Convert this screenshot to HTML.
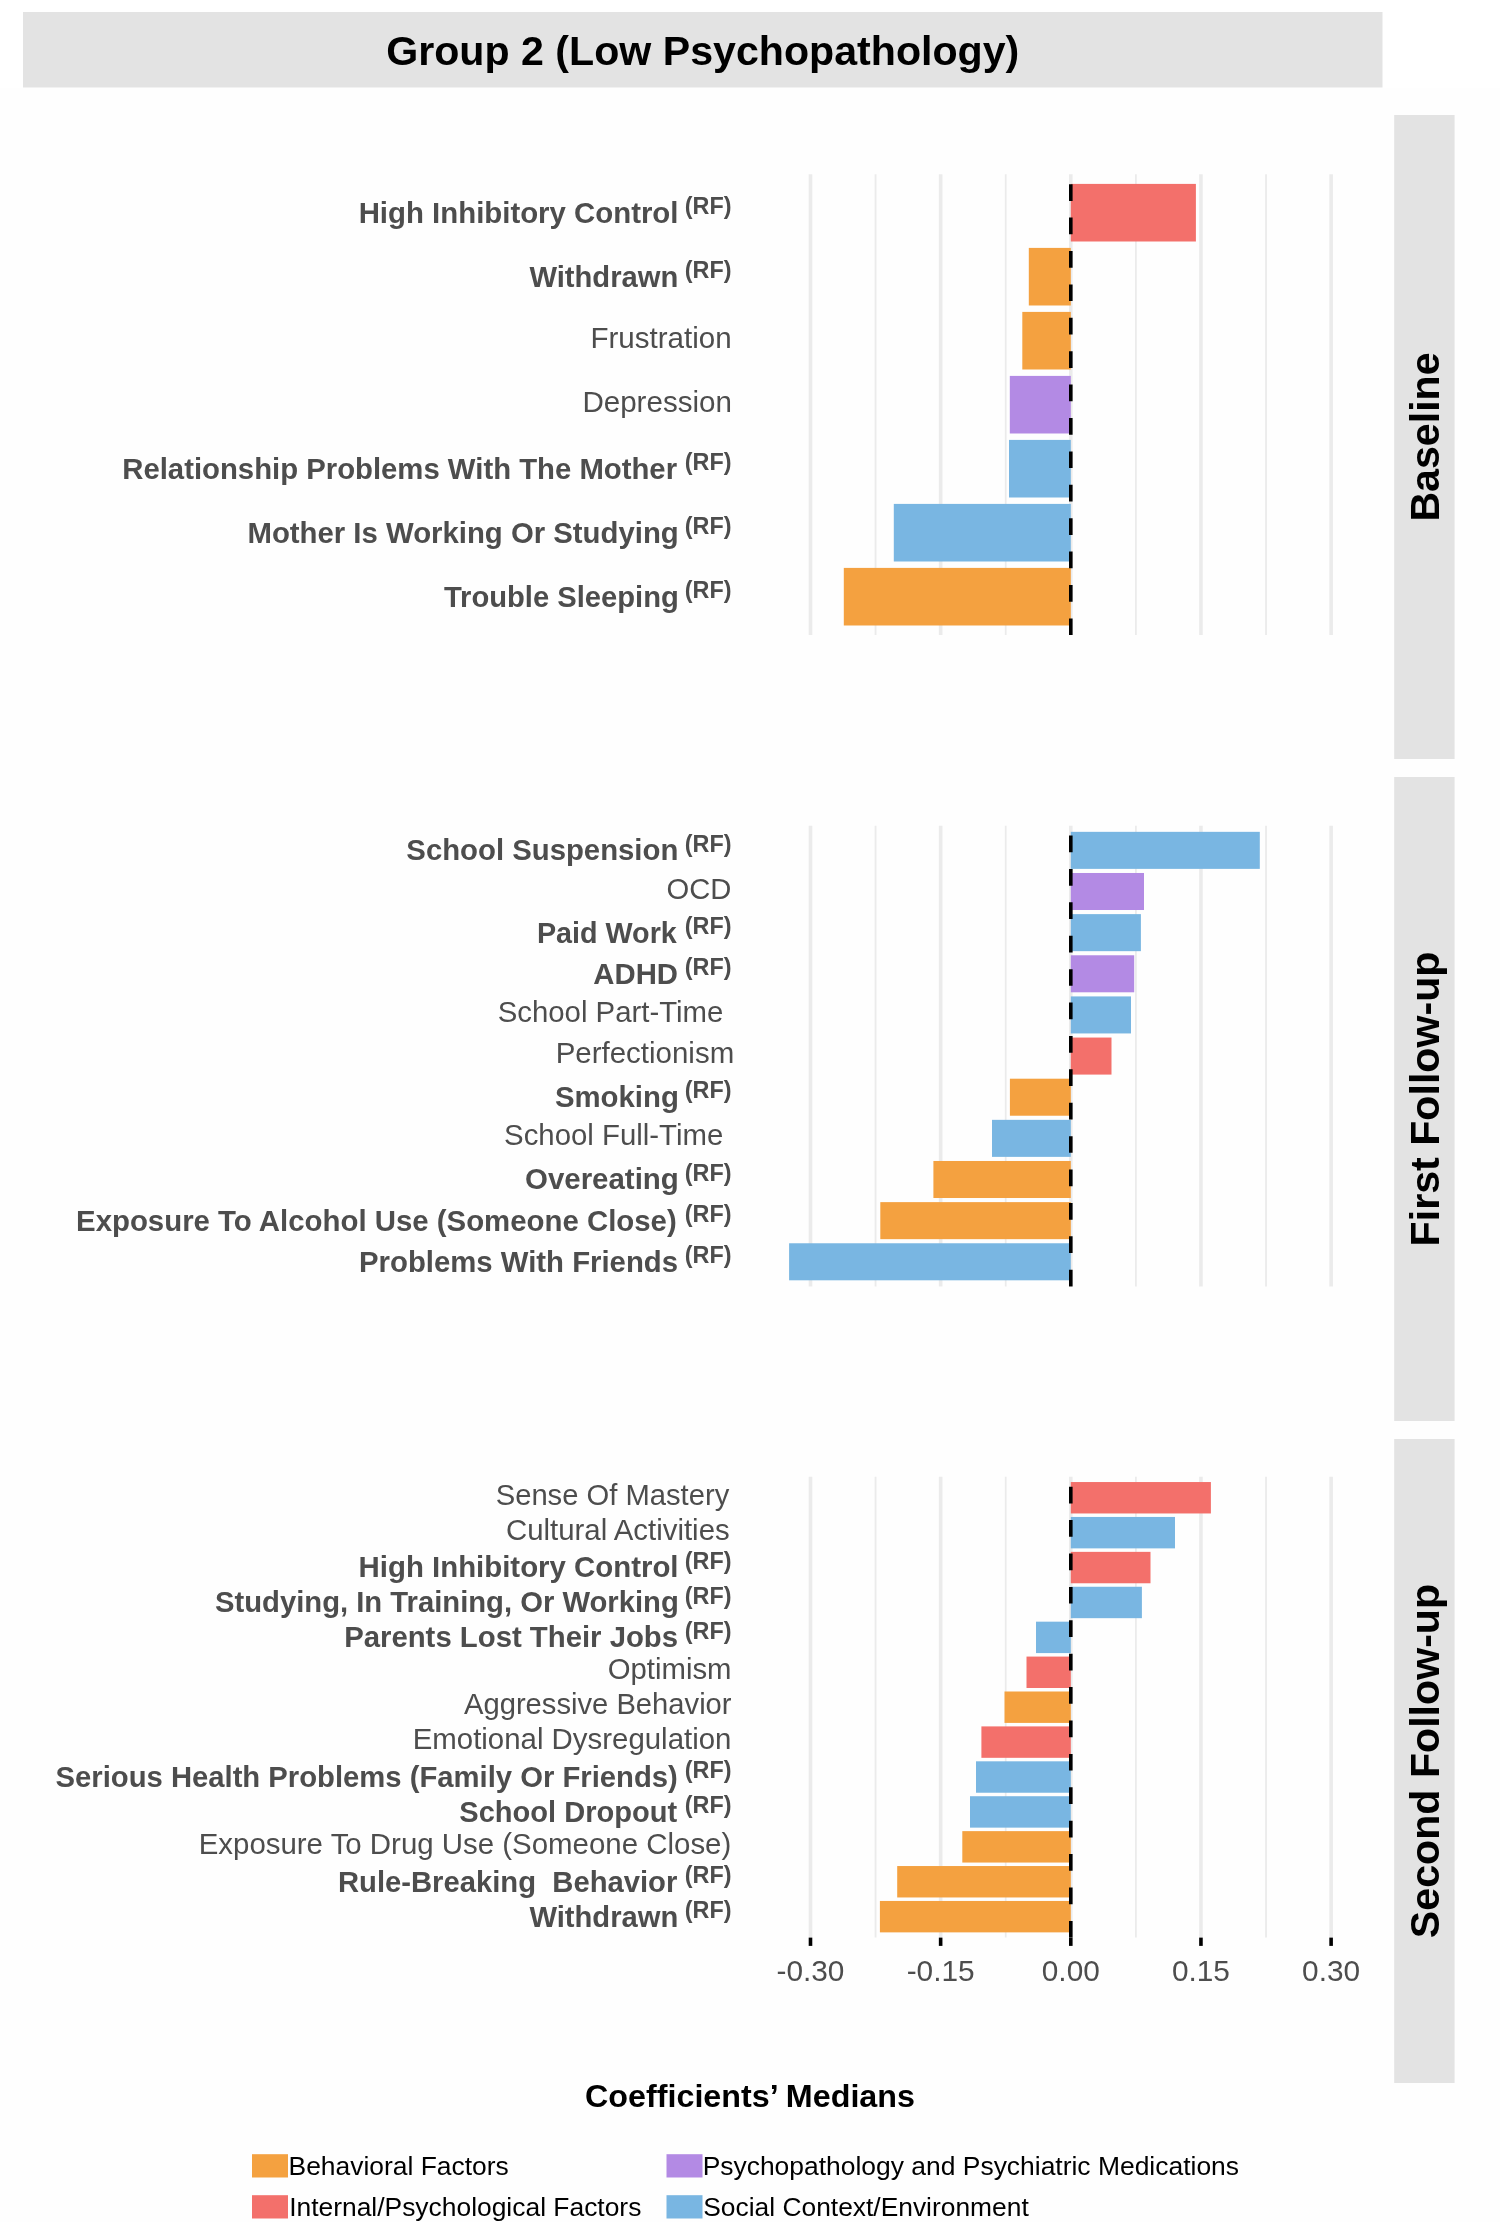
<!DOCTYPE html><html><head><meta charset="utf-8"><style>html,body{margin:0;padding:0;background:#fff;width:1500px;height:2222px;overflow:hidden}svg{display:block;will-change:transform}text{font-family:"Liberation Sans",sans-serif;white-space:pre}</style></head><body>
<svg width="1500" height="2222" viewBox="0 0 1500 2222">
<rect x="0" y="0" width="1500" height="2222" fill="#fefefe"/>
<rect x="0" y="0" width="1500" height="88" fill="#ffffff"/>
<rect x="23" y="12" width="1359.5" height="75.5" fill="#e3e3e3"/>
<text x="702.75" y="64.9" font-size="41.15" font-weight="bold" text-anchor="middle" fill="#000">Group 2 (Low Psychopathology)</text>
<rect x="1394.2" y="115" width="60.4" height="644" fill="#e3e3e3"/>
<text transform="translate(1438.8 437) rotate(-90)" font-size="41.15" font-weight="bold" text-anchor="middle" fill="#000">Baseline</text>
<rect x="1394.2" y="777" width="60.4" height="644" fill="#e3e3e3"/>
<text transform="translate(1438.8 1099) rotate(-90)" font-size="41.15" font-weight="bold" text-anchor="middle" fill="#000">First Follow-up</text>
<rect x="1394.2" y="1439" width="60.4" height="644" fill="#e3e3e3"/>
<text transform="translate(1438.8 1761) rotate(-90)" font-size="41.15" font-weight="bold" text-anchor="middle" fill="#000">Second Follow-up</text>
<line x1="810.49" y1="174.30" x2="810.49" y2="635.10" stroke="#ebebeb" stroke-width="3.6"/>
<line x1="875.57" y1="174.30" x2="875.57" y2="635.10" stroke="#ebebeb" stroke-width="1.8"/>
<line x1="940.64" y1="174.30" x2="940.64" y2="635.10" stroke="#ebebeb" stroke-width="3.6"/>
<line x1="1005.72" y1="174.30" x2="1005.72" y2="635.10" stroke="#ebebeb" stroke-width="1.8"/>
<line x1="1070.80" y1="174.30" x2="1070.80" y2="635.10" stroke="#ebebeb" stroke-width="3.6"/>
<line x1="1135.88" y1="174.30" x2="1135.88" y2="635.10" stroke="#ebebeb" stroke-width="1.8"/>
<line x1="1200.95" y1="174.30" x2="1200.95" y2="635.10" stroke="#ebebeb" stroke-width="3.6"/>
<line x1="1266.03" y1="174.30" x2="1266.03" y2="635.10" stroke="#ebebeb" stroke-width="1.8"/>
<line x1="1331.11" y1="174.30" x2="1331.11" y2="635.10" stroke="#ebebeb" stroke-width="3.6"/>
<rect x="1070.80" y="183.90" width="125.10" height="57.60" fill="#F3706B"/>
<text x="358.66" y="222.60" font-size="29.399" font-weight="bold" fill="#4d4d4d">High Inhibitory Control</text>
<text x="684.80" y="213.90" font-size="23.382" font-weight="bold" fill="#4d4d4d">(RF)</text>
<rect x="1028.80" y="247.90" width="42.00" height="57.60" fill="#F4A140"/>
<text x="529.40" y="286.60" font-size="29.209" font-weight="bold" fill="#4d4d4d">Withdrawn</text>
<text x="684.80" y="277.90" font-size="23.382" font-weight="bold" fill="#4d4d4d">(RF)</text>
<rect x="1022.30" y="311.90" width="48.50" height="57.60" fill="#F4A140"/>
<text x="590.39" y="347.70" font-size="29.559" fill="#4d4d4d">Frustration</text>
<rect x="1009.80" y="375.90" width="61.00" height="57.60" fill="#B38AE4"/>
<text x="582.39" y="411.70" font-size="29.570" fill="#4d4d4d">Depression</text>
<rect x="1009.00" y="439.90" width="61.80" height="57.60" fill="#79B6E2"/>
<text x="122.27" y="478.60" font-size="29.316" font-weight="bold" fill="#4d4d4d">Relationship Problems With The Mother</text>
<text x="684.80" y="469.90" font-size="23.382" font-weight="bold" fill="#4d4d4d">(RF)</text>
<rect x="893.80" y="503.90" width="177.00" height="57.60" fill="#79B6E2"/>
<text x="247.47" y="542.60" font-size="29.339" font-weight="bold" fill="#4d4d4d">Mother Is Working Or Studying</text>
<text x="684.80" y="533.90" font-size="23.382" font-weight="bold" fill="#4d4d4d">(RF)</text>
<rect x="843.80" y="567.90" width="227.00" height="57.60" fill="#F4A140"/>
<text x="443.90" y="606.60" font-size="29.164" font-weight="bold" fill="#4d4d4d">Trouble Sleeping</text>
<text x="684.80" y="597.90" font-size="23.382" font-weight="bold" fill="#4d4d4d">(RF)</text>
<line x1="1070.8" y1="635.10" x2="1070.8" y2="174.30" stroke="#000" stroke-width="3.6" stroke-dasharray="16.7 16.7"/>
<line x1="810.49" y1="825.67" x2="810.49" y2="1286.47" stroke="#ebebeb" stroke-width="3.6"/>
<line x1="875.57" y1="825.67" x2="875.57" y2="1286.47" stroke="#ebebeb" stroke-width="1.8"/>
<line x1="940.64" y1="825.67" x2="940.64" y2="1286.47" stroke="#ebebeb" stroke-width="3.6"/>
<line x1="1005.72" y1="825.67" x2="1005.72" y2="1286.47" stroke="#ebebeb" stroke-width="1.8"/>
<line x1="1070.80" y1="825.67" x2="1070.80" y2="1286.47" stroke="#ebebeb" stroke-width="3.6"/>
<line x1="1135.88" y1="825.67" x2="1135.88" y2="1286.47" stroke="#ebebeb" stroke-width="1.8"/>
<line x1="1200.95" y1="825.67" x2="1200.95" y2="1286.47" stroke="#ebebeb" stroke-width="3.6"/>
<line x1="1266.03" y1="825.67" x2="1266.03" y2="1286.47" stroke="#ebebeb" stroke-width="1.8"/>
<line x1="1331.11" y1="825.67" x2="1331.11" y2="1286.47" stroke="#ebebeb" stroke-width="3.6"/>
<rect x="1070.80" y="831.84" width="189.00" height="37.03" fill="#79B6E2"/>
<text x="406.34" y="860.26" font-size="29.322" font-weight="bold" fill="#4d4d4d">School Suspension</text>
<text x="684.80" y="851.56" font-size="23.382" font-weight="bold" fill="#4d4d4d">(RF)</text>
<rect x="1070.80" y="872.98" width="73.20" height="37.03" fill="#B38AE4"/>
<text x="666.53" y="898.50" font-size="29.197" fill="#4d4d4d">OCD</text>
<rect x="1070.80" y="914.13" width="70.10" height="37.03" fill="#79B6E2"/>
<text x="536.90" y="942.54" font-size="28.720" font-weight="bold" fill="#4d4d4d">Paid Work</text>
<text x="684.80" y="933.84" font-size="23.382" font-weight="bold" fill="#4d4d4d">(RF)</text>
<rect x="1070.80" y="955.27" width="63.40" height="37.03" fill="#B38AE4"/>
<text x="593.34" y="983.68" font-size="29.313" font-weight="bold" fill="#4d4d4d">ADHD</text>
<text x="684.80" y="974.98" font-size="23.382" font-weight="bold" fill="#4d4d4d">(RF)</text>
<rect x="1070.80" y="996.41" width="60.20" height="37.03" fill="#79B6E2"/>
<text x="497.68" y="1021.93" font-size="29.360" fill="#4d4d4d">School Part-Time</text>
<rect x="1070.80" y="1037.56" width="40.70" height="37.03" fill="#F3706B"/>
<text x="555.70" y="1063.07" font-size="29.489" fill="#4d4d4d">Perfectionism</text>
<rect x="1009.90" y="1078.70" width="60.90" height="37.03" fill="#F4A140"/>
<text x="554.94" y="1107.11" font-size="29.350" font-weight="bold" fill="#4d4d4d">Smoking</text>
<text x="684.80" y="1098.41" font-size="23.382" font-weight="bold" fill="#4d4d4d">(RF)</text>
<rect x="992.00" y="1119.84" width="78.80" height="37.03" fill="#79B6E2"/>
<text x="504.08" y="1145.36" font-size="29.379" fill="#4d4d4d">School Full-Time</text>
<rect x="933.40" y="1160.98" width="137.40" height="37.03" fill="#F4A140"/>
<text x="524.98" y="1189.40" font-size="29.460" font-weight="bold" fill="#4d4d4d">Overeating</text>
<text x="684.80" y="1180.70" font-size="23.382" font-weight="bold" fill="#4d4d4d">(RF)</text>
<rect x="880.30" y="1202.13" width="190.50" height="37.03" fill="#F4A140"/>
<text x="76.06" y="1230.54" font-size="29.387" font-weight="bold" fill="#4d4d4d">Exposure To Alcohol Use (Someone Close)</text>
<text x="684.80" y="1221.84" font-size="23.382" font-weight="bold" fill="#4d4d4d">(RF)</text>
<rect x="789.10" y="1243.27" width="281.70" height="37.03" fill="#79B6E2"/>
<text x="359.07" y="1271.68" font-size="29.327" font-weight="bold" fill="#4d4d4d">Problems With Friends</text>
<text x="684.80" y="1262.98" font-size="23.382" font-weight="bold" fill="#4d4d4d">(RF)</text>
<line x1="1070.8" y1="1286.47" x2="1070.8" y2="825.67" stroke="#000" stroke-width="3.6" stroke-dasharray="16.7 16.7"/>
<line x1="810.49" y1="1476.80" x2="810.49" y2="1937.60" stroke="#ebebeb" stroke-width="3.6"/>
<line x1="875.57" y1="1476.80" x2="875.57" y2="1937.60" stroke="#ebebeb" stroke-width="1.8"/>
<line x1="940.64" y1="1476.80" x2="940.64" y2="1937.60" stroke="#ebebeb" stroke-width="3.6"/>
<line x1="1005.72" y1="1476.80" x2="1005.72" y2="1937.60" stroke="#ebebeb" stroke-width="1.8"/>
<line x1="1070.80" y1="1476.80" x2="1070.80" y2="1937.60" stroke="#ebebeb" stroke-width="3.6"/>
<line x1="1135.88" y1="1476.80" x2="1135.88" y2="1937.60" stroke="#ebebeb" stroke-width="1.8"/>
<line x1="1200.95" y1="1476.80" x2="1200.95" y2="1937.60" stroke="#ebebeb" stroke-width="3.6"/>
<line x1="1266.03" y1="1476.80" x2="1266.03" y2="1937.60" stroke="#ebebeb" stroke-width="1.8"/>
<line x1="1331.11" y1="1476.80" x2="1331.11" y2="1937.60" stroke="#ebebeb" stroke-width="3.6"/>
<rect x="1070.80" y="1482.04" width="140.10" height="31.42" fill="#F3706B"/>
<text x="495.69" y="1504.75" font-size="29.203" fill="#4d4d4d">Sense Of Mastery</text>
<rect x="1070.80" y="1516.95" width="104.20" height="31.42" fill="#79B6E2"/>
<text x="506.02" y="1539.65" font-size="29.391" fill="#4d4d4d">Cultural Activities</text>
<rect x="1070.80" y="1551.85" width="79.70" height="31.42" fill="#F3706B"/>
<text x="358.56" y="1577.46" font-size="29.408" font-weight="bold" fill="#4d4d4d">High Inhibitory Control</text>
<text x="684.80" y="1568.76" font-size="23.382" font-weight="bold" fill="#4d4d4d">(RF)</text>
<rect x="1070.80" y="1586.76" width="71.10" height="31.42" fill="#79B6E2"/>
<text x="215.04" y="1612.37" font-size="29.225" font-weight="bold" fill="#4d4d4d">Studying, In Training, Or Working</text>
<text x="684.80" y="1603.67" font-size="23.382" font-weight="bold" fill="#4d4d4d">(RF)</text>
<rect x="1036.00" y="1621.67" width="34.80" height="31.42" fill="#79B6E2"/>
<text x="344.17" y="1647.28" font-size="29.322" font-weight="bold" fill="#4d4d4d">Parents Lost Their Jobs</text>
<text x="684.80" y="1638.58" font-size="23.382" font-weight="bold" fill="#4d4d4d">(RF)</text>
<rect x="1026.50" y="1656.58" width="44.30" height="31.42" fill="#F3706B"/>
<text x="607.73" y="1679.29" font-size="29.320" fill="#4d4d4d">Optimism</text>
<rect x="1004.50" y="1691.49" width="66.30" height="31.42" fill="#F4A140"/>
<text x="464.00" y="1714.20" font-size="29.182" fill="#4d4d4d">Aggressive Behavior</text>
<rect x="981.40" y="1726.40" width="89.40" height="31.42" fill="#F3706B"/>
<text x="412.70" y="1749.11" font-size="29.427" fill="#4d4d4d">Emotional Dysregulation</text>
<rect x="976.00" y="1761.31" width="94.80" height="31.42" fill="#79B6E2"/>
<text x="55.54" y="1786.92" font-size="29.249" font-weight="bold" fill="#4d4d4d">Serious Health Problems (Family Or Friends)</text>
<text x="684.80" y="1778.22" font-size="23.382" font-weight="bold" fill="#4d4d4d">(RF)</text>
<rect x="970.00" y="1796.22" width="100.80" height="31.42" fill="#79B6E2"/>
<text x="459.35" y="1821.83" font-size="29.043" font-weight="bold" fill="#4d4d4d">School Dropout</text>
<text x="684.80" y="1813.13" font-size="23.382" font-weight="bold" fill="#4d4d4d">(RF)</text>
<rect x="962.30" y="1831.13" width="108.50" height="31.42" fill="#F4A140"/>
<text x="198.70" y="1853.84" font-size="29.434" fill="#4d4d4d">Exposure To Drug Use (Someone Close)</text>
<rect x="897.20" y="1866.04" width="173.60" height="31.42" fill="#F4A140"/>
<text x="337.97" y="1891.65" font-size="29.226" font-weight="bold" fill="#4d4d4d">Rule-Breaking  Behavior</text>
<text x="684.80" y="1882.95" font-size="23.382" font-weight="bold" fill="#4d4d4d">(RF)</text>
<rect x="879.90" y="1900.95" width="190.90" height="31.42" fill="#F4A140"/>
<text x="529.40" y="1926.55" font-size="29.209" font-weight="bold" fill="#4d4d4d">Withdrawn</text>
<text x="684.80" y="1917.85" font-size="23.382" font-weight="bold" fill="#4d4d4d">(RF)</text>
<line x1="1070.8" y1="1937.60" x2="1070.8" y2="1476.80" stroke="#000" stroke-width="3.6" stroke-dasharray="16.7 16.7"/>
<line x1="810.49" y1="1937.60" x2="810.49" y2="1945.90" stroke="#000" stroke-width="3.6"/>
<text x="810.49" y="1980.8" font-size="29.8" text-anchor="middle" fill="#4d4d4d">-0.30</text>
<line x1="940.64" y1="1937.60" x2="940.64" y2="1945.90" stroke="#000" stroke-width="3.6"/>
<text x="940.64" y="1980.8" font-size="29.8" text-anchor="middle" fill="#4d4d4d">-0.15</text>
<line x1="1070.80" y1="1937.60" x2="1070.80" y2="1945.90" stroke="#000" stroke-width="3.6"/>
<text x="1070.80" y="1980.8" font-size="29.8" text-anchor="middle" fill="#4d4d4d">0.00</text>
<line x1="1200.95" y1="1937.60" x2="1200.95" y2="1945.90" stroke="#000" stroke-width="3.6"/>
<text x="1200.95" y="1980.8" font-size="29.8" text-anchor="middle" fill="#4d4d4d">0.15</text>
<line x1="1331.11" y1="1937.60" x2="1331.11" y2="1945.90" stroke="#000" stroke-width="3.6"/>
<text x="1331.11" y="1980.8" font-size="29.8" text-anchor="middle" fill="#4d4d4d">0.30</text>
<text x="750" y="2106.8" font-size="32.27" font-weight="bold" text-anchor="middle" fill="#000">Coefficients’ Medians</text>
<rect x="252" y="2154.2" width="36" height="23.3" fill="#F4A140"/>
<text x="288.53" y="2174.7" font-size="26.436" fill="#000">Behavioral Factors</text>
<rect x="252" y="2195.2" width="36" height="23.3" fill="#F3706B"/>
<text x="289.14" y="2215.7" font-size="26.417" fill="#000">Internal/Psychological Factors</text>
<rect x="666.5" y="2154.2" width="36" height="23.3" fill="#B38AE4"/>
<text x="702.63" y="2174.7" font-size="26.458" fill="#000">Psychopathology and Psychiatric Medications</text>
<rect x="666.5" y="2195.2" width="36" height="23.3" fill="#79B6E2"/>
<text x="703.28" y="2215.7" font-size="26.390" fill="#000">Social Context/Environment</text>
</svg></body></html>
